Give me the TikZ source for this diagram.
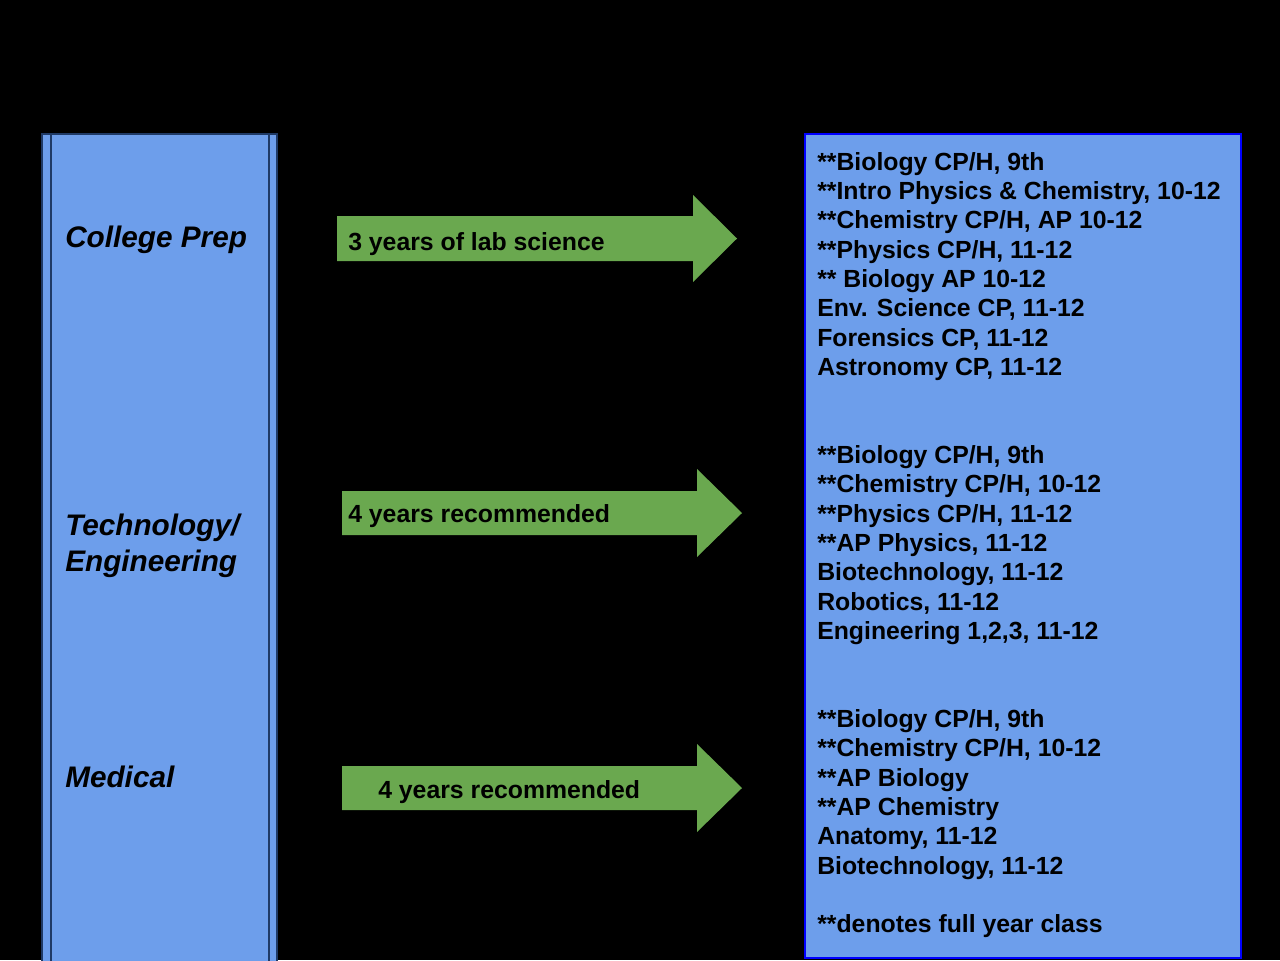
\documentclass[tikz,border=0pt]{standalone}
\usepackage{fontspec}
\setmainfont{Liberation Sans}
\definecolor{boxblue}{HTML}{6D9EEB}
\definecolor{arrowgreen}{HTML}{6AA84F}
\definecolor{edgenavy}{HTML}{1F3A66}
\definecolor{edgeblue}{HTML}{0000FF}
\begin{document}
\begin{tikzpicture}[x=0.75pt,y=-0.75pt,
  txt/.style={anchor=base west,inner sep=0pt,font=\fontsize{18.6}{22}\selectfont\bfseries,text=black},
  lbl/.style={anchor=base west,inner sep=0pt,font=\fontsize{22.3}{27}\selectfont\bfseries\itshape,text=black},
  blockarrow/.style={fill=arrowgreen}]
\useasboundingbox (0,0) rectangle (1280,960);
\fill[black] (0,0) rectangle (1280,960);
% left process box
\begin{scope}
\clip (0,0) rectangle (1280,960);
\filldraw[fill=boxblue,draw=edgenavy,line width=1.2pt] (42,134) rectangle (277,975);
\draw[edgenavy,line width=1.2pt] (51,134) -- (51,975) (269,134) -- (269,975);
\end{scope}
% right box
\filldraw[fill=boxblue,draw=edgeblue,line width=2.2pt] (805,134) rectangle (1241,958);
% arrows
\fill[blockarrow] (337,216) -- (693,216) -- (693,195) -- (737,238.5) -- (693,282) -- (693,261) -- (337,261) -- cycle;
\fill[blockarrow] (342,491) -- (697,491) -- (697,469) -- (742,513) -- (697,557) -- (697,535) -- (342,535) -- cycle;
\fill[blockarrow] (342,766) -- (697,766) -- (697,744) -- (742,788) -- (697,832) -- (697,810) -- (342,810) -- cycle;
\node[txt] (a1) at (348,250) {3 years of lab science};
\node[txt] (a2) at (348,522) {4 years recommended};
\node[txt] (a3) at (378,798) {4 years recommended};
% left labels
\node[lbl] (l1) at (65,247) {College Prep};
\node[lbl] (l2) at (65,535) {Technology/};
\node[lbl] (l2b) at (65,571) {Engineering};
\node[lbl] (l3) at (65,787) {Medical};
% right texts block 1
\node[txt] (r11) at (817,170) {**Biology CP/H, 9th};
\node[txt] (r12) at (817,199) {**Intro Physics \& Chemistry, 10-12};
\node[txt] (r13) at (817,228) {**Chemistry CP/H, AP 10-12};
\node[txt] (r14) at (817,258) {**Physics CP/H, 11-12};
\node[txt] (r15) at (817,287) {** Biology AP 10-12};
\node[txt] (r16) at (817,316) {Env. Science CP, 11-12};
\node[txt] (r17) at (817,346) {Forensics CP, 11-12};
\node[txt] (r18) at (817,375) {Astronomy CP, 11-12};
% block 2
\node[txt] (r21) at (817,463) {**Biology CP/H, 9th};
\node[txt] (r22) at (817,492) {**Chemistry CP/H, 10-12};
\node[txt] (r23) at (817,522) {**Physics CP/H, 11-12};
\node[txt] (r24) at (817,551) {**AP Physics, 11-12};
\node[txt] (r25) at (817,580) {Biotechnology, 11-12};
\node[txt] (r26) at (817,610) {Robotics, 11-12};
\node[txt] (r27) at (817,639) {Engineering 1,2,3, 11-12};
% block 3
\node[txt] (r31) at (817,727) {**Biology CP/H, 9th};
\node[txt] (r32) at (817,756) {**Chemistry CP/H, 10-12};
\node[txt] (r33) at (817,786) {**AP Biology};
\node[txt] (r34) at (817,815) {**AP Chemistry};
\node[txt] (r35) at (817,844) {Anatomy, 11-12};
\node[txt] (r36) at (817,874) {Biotechnology, 11-12};
\node[txt] (r37) at (817,932) {**denotes full year class};
\end{tikzpicture}
\end{document}
